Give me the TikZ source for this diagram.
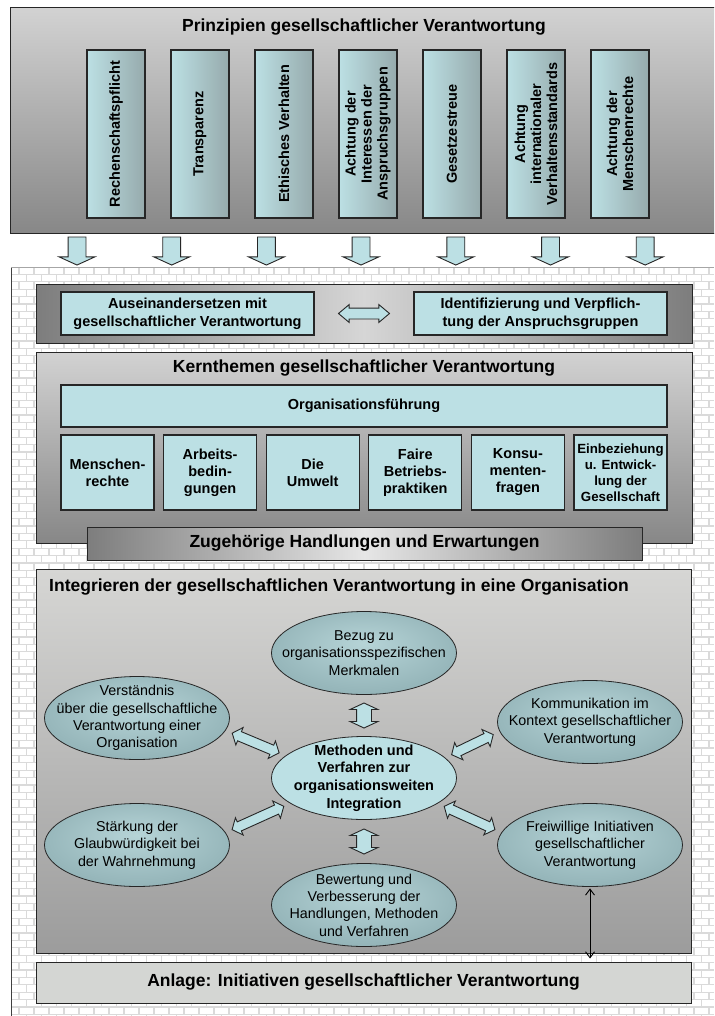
\documentclass[tikz,border=0pt]{standalone}
\usepackage{fontspec}
\setmainfont{Liberation Sans}
\usetikzlibrary{shapes.geometric,shapes.arrows,arrows.meta,calc}

\definecolor{boxcyan}{RGB}{188,224,228}
\definecolor{boxteal}{RGB}{150,170,172}
\definecolor{ovalin}{RGB}{182,212,215}
\definecolor{ovalout}{RGB}{120,154,159}
\definecolor{mortar}{RGB}{218,218,218}
\definecolor{panellight}{RGB}{210,210,210}
\definecolor{paneldark}{RGB}{135,135,135}
\definecolor{intlight}{RGB}{214,214,212}
\definecolor{intdark}{RGB}{156,156,156}
\definecolor{edgegray}{RGB}{125,125,125}
\definecolor{centregray}{RGB}{214,214,214}
\definecolor{brightgray}{RGB}{230,230,230}
\definecolor{annexgray}{RGB}{212,214,211}

\pgfdeclareradialshading{ovalshade}{\pgfpoint{0bp}{6bp}}{color(0bp)=(ovalin); color(50bp)=(ovalout)}

% fat two-headed arrow: name, extra options, from, to
\newcommand\twinarrow[4]{%
  \path let \p1=(#3), \p2=(#4),
    \n1={atan2(\y2-\y1,\x2-\x1)}, \n2={veclen(\x2-\x1,\y2-\y1)-14pt} in
    node[twin, rotate=\n1, minimum height=\n2, #2] (#1) at ($(\p1)!.5!(\p2)$) {};}

\begin{document}
\begin{tikzpicture}[x=1pt, y=-1pt, >={Straight Barb[length=6pt,width=9pt]},
  headfont/.style={font=\fontsize{17.5}{21}\selectfont\bfseries},
  boldfont/.style={font=\fontsize{14.5}{17}\selectfont\bfseries},
  ovalfont/.style={font=\fontsize{14.3}{17.4}\selectfont},
  panel/.style={draw=black!85, line width=1pt},
  brickline/.style={draw=mortar, line width=1.2pt},
  cyanbox/.style={draw=black!85, line width=1.1pt, fill=boxcyan, inner sep=0pt, align=center, boldfont},
  prinbox/.style={cyanbox, rotate=90, minimum width=168pt, minimum height=58pt,
    left color=boxcyan, right color=boxteal, font=\fontsize{14.5}{16}\selectfont\bfseries},
  themebox/.style={cyanbox, minimum width=93pt, minimum height=75pt},
  downarrow/.style={single arrow, rotate=-90, draw=black!85, line width=0.9pt, fill=boxcyan,
    inner sep=0pt, inner ysep=8.5pt, single arrow head extend=9pt, single arrow head indent=0pt,
    single arrow tip angle=131, minimum height=28pt},
  twin/.style={double arrow, draw=black!85, line width=0.9pt, fill=boxcyan, inner sep=0pt,
    inner ysep=4.5pt, double arrow head extend=4.5pt, double arrow head indent=0pt,
    double arrow tip angle=100},
  twinvert/.style={minimum height=25pt, inner ysep=7pt, double arrow head extend=6.5pt,
    double arrow tip angle=130},
  ovalbase/.style={ellipse, draw=black!85, line width=0.8pt, minimum width=185pt, minimum height=83pt,
    inner sep=0pt},
  oval/.style={ovalbase, shade, shading=ovalshade},
  midoval/.style={ovalbase, fill=boxcyan},
  ovaltext/.style={align=center, inner sep=0pt, ovalfont},
  midtext/.style={align=center, inner sep=0pt, font=\fontsize{14.5}{17.6}\selectfont\bfseries}
]
\useasboundingbox (0,0) rectangle (714,1016);
\clip (0,0) rectangle (714,1016);
\fill[white] (0,0) rectangle (714,1016);

%------------------ BRICK BACKGROUND ------------------%
\begin{scope}
  \clip (11,267) rectangle (714,1016);
  \foreach \r in {0,...,101}{
    \pgfmathsetmacro\yrow{267+7.4*\r}
    \pgfmathsetmacro\xoff{mod(\r,2)*7.5+4}
    \draw[brickline] (11,\yrow) -- (714,\yrow)
      \foreach \c in {0,...,47} {({\xoff+15*\c},\yrow) -- ++(0,7.4)};
  }
\end{scope}
\draw[black!75, line width=1pt] (11,1016) -- (11,267);
\draw[gray!70, line width=0.8pt] (11,267) -- (714,267);

%------------------ PRINCIPLES ------------------%
\draw[panel, top color=panellight, bottom color=paneldark] (10,8) rectangle (730,234);
\node[headfont] (prinzipien) at (364,27) {Prinzipien gesellschaftlicher Verantwortung};

\foreach \txt [count=\i] in {{Rechenschaftspflicht}, {Transparenz}, {Ethisches Verhalten},
    {Achtung der\\Interessen der\\Anspruchsgruppen}, {Gesetzestreue},
    {Achtung\\internationaler\\Verhaltensstandards}, {Achtung der\\Menschenrechte}}
  \node[prinbox] (prin-\i) at ({116+84*(\i-1)},134) {\txt};

\foreach \x [count=\i] in {77,171.7,266.4,361,455.8,550.5,645.2}
  \node[downarrow] (down-\i) at (\x,249) {};

%------------------ STAKEHOLDERS ------------------%
\draw[panel, left color=edgegray, right color=edgegray, middle color=centregray]
  (36,284) rectangle (692,343);
\node[cyanbox, minimum width=253pt, minimum height=43pt, font=\fontsize{14.5}{18}\selectfont\bfseries]
  (auseinander) at (187.5,313.5) {Auseinandersetzen mit\\gesellschaftlicher Verantwortung};
\node[cyanbox, minimum width=253pt, minimum height=43pt, font=\fontsize{14.5}{18}\selectfont\bfseries]
  (identifizierung) at (540.5,313.5) {Identifizierung und Verpflich-\\tung der Anspruchsgruppen};
\twinarrow{pfeil-ab}{minimum height=51pt, inner ysep=5pt, double arrow head extend=3.5pt,
  double arrow tip angle=80}{auseinander.east}{identifizierung.west}

%------------------ CORE SUBJECTS ------------------%
\draw[panel, top color=panellight, bottom color=paneldark] (36,352) rectangle (692,543);
\node[headfont] (kernthemen) at (364,368) {Kernthemen gesellschaftlicher Verantwortung};
\node[cyanbox, minimum width=606pt, minimum height=42pt] (fuehrung) at (364,406) {Organisationsführung};

\foreach \txt [count=\i] in {{Menschen-\\rechte}, {Arbeits-\\bedin-\\gungen}, {Die\\Umwelt},
    {Faire\\Betriebs-\\praktiken}, {Konsu-\\menten-\\fragen}}
  \node[themebox] (thema-\i) at ({107.5+102.6*(\i-1)},472.5) {\txt};
\node[themebox, font=\fontsize{13.3}{16}\selectfont\bfseries] (thema-6) at (620.5,472.5)
  {Einbeziehung\\u. Entwick-\\lung der\\Gesellschaft};

\node[panel, left color=edgegray, right color=edgegray, middle color=brightgray,
  minimum width=555pt, minimum height=33pt, inner sep=0pt, headfont]
  (handlungen) at (364.5,543.5) {Zugehörige Handlungen und Erwartungen};

%------------------ INTEGRATION ------------------%
\draw[panel, top color=intlight, bottom color=intdark] (36,569) rectangle (691,953);
\node[headfont, anchor=west, inner sep=0pt] (integrieren) at (49,587)
  {Integrieren der gesellschaftlichen Verantwortung in eine Organisation};

\node[oval, label={[ovaltext]center:Bezug zu\\organisationsspezifischen\\Merkmalen}]
  (bezug) at (364,653) {};
\node[oval, label={[ovaltext]center:Verständnis\\über die gesellschaftliche\\Verantwortung einer\\Organisation}]
  (verstaendnis) at (137,718) {};
\node[oval, label={[ovaltext]center:Kommunikation im\\Kontext gesellschaftlicher\\Verantwortung}]
  (kommunikation) at (590,722) {};
\node[midoval, label={[midtext]center:Methoden und\\Verfahren zur\\organisationsweiten\\Integration}]
  (methoden) at (364,778) {};
\node[oval, label={[ovaltext]center:Stärkung der\\Glaubwürdigkeit bei\\der Wahrnehmung}]
  (staerkung) at (137,845) {};
\node[oval, label={[ovaltext]center:Freiwillige Initiativen\\gesellschaftlicher\\Verantwortung}]
  (freiwillig) at (590,845) {};
\node[oval, label={[ovaltext]center:{Bewertung und\\Verbesserung der\\Handlungen, Methoden\\und Verfahren}}]
  (bewertung) at (364,905) {};

\twinarrow{pfeil-oben}{twinvert}{bezug.south}{methoden.north}
\twinarrow{pfeil-unten}{twinvert}{methoden.south}{bewertung.north}
\twinarrow{pfeil-lo}{}{verstaendnis.-8}{methoden.164}
\twinarrow{pfeil-ro}{}{methoden.14}{kommunikation.186}
\twinarrow{pfeil-lu}{}{staerkung.8}{methoden.-161}
\twinarrow{pfeil-ru}{}{methoden.-19}{freiwillig.172}

%------------------ ANNEX ------------------%
\node[panel, fill=annexgray, minimum width=655pt, minimum height=41pt, inner sep=0pt, headfont]
  (anlage) at (363.5,982.5) {Anlage: Initiativen gesellschaftlicher Verantwortung};
\draw[<->, line width=0.9pt, shorten <=1.5pt, shorten >=3pt]
  (freiwillig.south) -- (freiwillig.south |- anlage.north);

\end{tikzpicture}
\end{document}
